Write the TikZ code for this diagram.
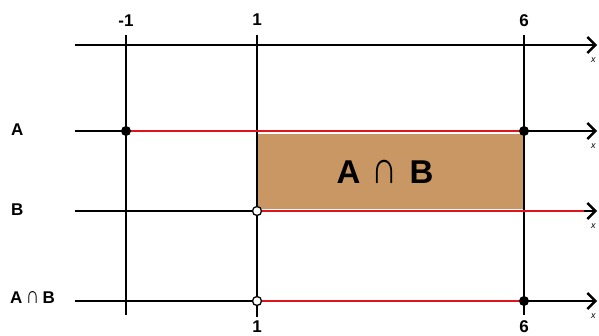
\documentclass[tikz,border=0pt]{standalone}
\usepackage{fontspec}
\setmainfont{Liberation Sans}
\usetikzlibrary{arrows.meta}
\definecolor{boxbrown}{RGB}{201,151,100}
\definecolor{setred}{RGB}{225,20,30}
\newcommand{\bigcapsym}{\scalebox{1.1}[1.4]{∩}}
\begin{document}
\begin{tikzpicture}[x=1pt,y=-1pt,
  axis/.style={line width=1.6pt,black},
  arr/.style={axis,-{Straight Barb[length=8pt,width=16pt,line width=2.4pt]}},
  redseg/.style={line width=1.8pt,setred},
  fulldot/.style={circle,fill=black,inner sep=0pt,minimum size=10pt},
  opendot/.style={circle,draw=black,fill=white,line width=1.3pt,inner sep=0pt,minimum size=9pt},
  tick/.style={font=\bfseries\fontsize{17}{17}\selectfont,inner sep=0pt},
  rowlab/.style={font=\fontsize{17}{17}\selectfont,inner sep=0pt,anchor=west},
  xlab/.style={font=\itshape\fontsize{9}{9}\selectfont,inner sep=0pt,anchor=west}]
\useasboundingbox (0,0) rectangle (599,335);
% shaded intersection
\fill[boxbrown] (258,134) rectangle (523,209);
\node[font=\fontsize{33}{33}\selectfont,inner sep=0pt] (big) at (385,172) {\textbf{A}\hspace{0.35em}\bigcapsym\hspace{0.35em}\textbf{B}};
% coordinates
\coordinate (t0) at (75,45);  \coordinate (t1) at (597,45);
\coordinate (a0) at (75,131); \coordinate (a1) at (597,131);
\coordinate (b0) at (75,211); \coordinate (b1) at (597,211);
\coordinate (c0) at (75,301); \coordinate (c1) at (597,301);
\coordinate (vm1top) at (126,35); \coordinate (vm1bot) at (126,315);
\coordinate (v1top) at (257,35);  \coordinate (v1bot) at (257,317);
\coordinate (v6top) at (524,35);  \coordinate (v6bot) at (524,315);
\draw[axis] (vm1top) -- (vm1bot);
\draw[axis] (v1top) -- (v1bot);
\draw[axis] (v6top) -- (v6bot);
\draw[arr] (t0) -- (t1);
\draw[arr] (a0) -- (a1);
\draw[arr] (b0) -- (b1);
\draw[arr] (c0) -- (c1);
% red solution segments
\coordinate (ra0) at (126,131); \coordinate (ra1) at (524,131);
\coordinate (rb0) at (257,211); \coordinate (rb1) at (584,211);
\coordinate (rc0) at (257,301); \coordinate (rc1) at (524,301);
\draw[redseg] (ra0) -- (ra1);
\draw[redseg] (rb0) -- (rb1);
\draw[redseg] (rc0) -- (rc1);
% dots
\node[fulldot] (da1) at (126,131) {};
\node[fulldot] (da2) at (524,131) {};
\node[opendot] (db1) at (257,211) {};
\node[opendot] (dc1) at (257,301) {};
\node[fulldot] (dc2) at (524,301) {};
% tick labels
\node[tick] (lm1) at (126,21) {-1};
\node[tick] (l1) at (257,20) {1};
\node[tick] (l6) at (524,21) {6};
\node[tick] (l1b) at (257,327) {1};
\node[tick] (l6b) at (524,327) {6};
% row labels
\node[rowlab] (la) at (11,130) {\textbf{A}};
\node[rowlab] (lb) at (11,210) {\textbf{B}};
\node[rowlab] (lc) at (10,298) {\textbf{A}\hspace{0.2em}\bigcapsym\hspace{0.2em}\textbf{B}};
% axis variable labels
\node[xlab] (x1) at (591,60) {x};
\node[xlab] (x2) at (591,146) {x};
\node[xlab] (x3) at (591,226) {x};
\node[xlab] (x4) at (591,316) {x};
\end{tikzpicture}
\end{document}
